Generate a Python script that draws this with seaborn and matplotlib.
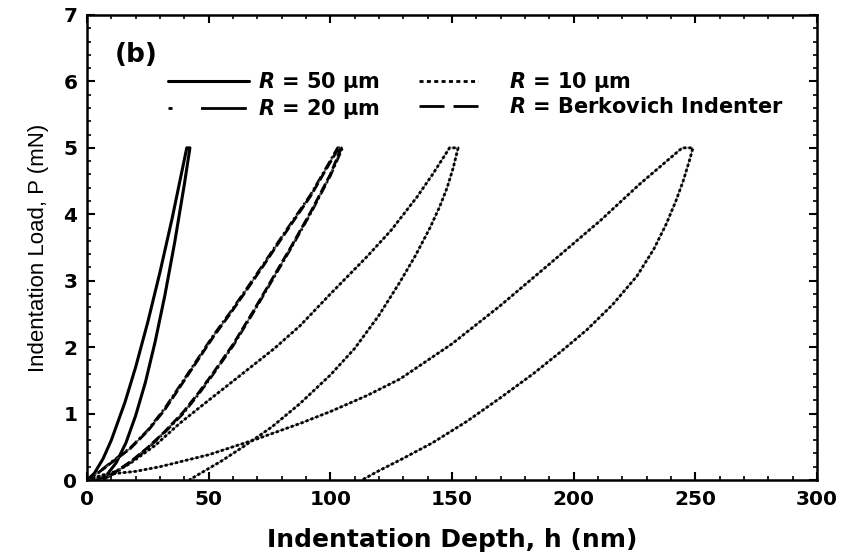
import numpy as np
import pandas as pd
import matplotlib
matplotlib.use("Agg")
import matplotlib.pyplot as plt
from matplotlib.lines import Line2D
import seaborn as sns

# ---- load-displacement cycles (depth in nm, load in mN), traced loading -> hold -> unloading
h_r50 = [0, 3, 6.6, 10, 15.6, 20, 25, 30, 35, 41, 42.3, 40, 36, 32, 28, 24, 20, 16, 12, 8, 4]
p_r50 = [0, 0.10, 0.32, 0.60, 1.17, 1.70, 2.38, 3.13, 3.94, 5.0, 5.0, 4.45, 3.57, 2.78, 2.08,
         1.47, 0.97, 0.56, 0.26, 0.07, 0]

h_r20 = [0, 5, 10, 17.7, 25, 32, 38.2, 46, 52, 58.8, 66, 72, 79.3, 86, 92, 98, 103,
         105, 100, 92, 84, 76, 68, 60, 52, 46, 39.5, 32, 25, 18, 12, 6.5]
p_r20 = [0, 0.12, 0.27, 0.48, 0.75, 1.08, 1.42, 1.85, 2.18, 2.52, 2.9, 3.22, 3.62, 3.98, 4.3, 4.68, 5.0,
         5.0, 4.58, 4.02, 3.5, 3.0, 2.5, 2.02, 1.6, 1.3, 1.0, 0.72, 0.48, 0.27, 0.12, 0]

h_berk = [0, 5, 10, 17.7, 25, 32, 38.2, 46, 52, 58.8, 66, 72, 79.3, 86, 92, 98, 103.5,
          104.5, 100, 92, 84, 76, 68, 60, 52, 46, 39.5, 32, 25, 18, 12, 6.5]
p_berk = [0, 0.12, 0.26, 0.47, 0.74, 1.06, 1.40, 1.83, 2.16, 2.50, 2.88, 3.2, 3.6, 3.96, 4.28, 4.66, 5.0,
          5.0, 4.6, 4.04, 3.52, 3.02, 2.52, 2.04, 1.62, 1.32, 1.02, 0.73, 0.49, 0.28, 0.13, 0]

h_r10 = [0, 6, 12, 17.7, 28, 38, 50, 65.6, 77, 87.5, 100, 115, 125, 135.6, 142, 149,
         152.5, 150.5, 148, 145, 141, 135, 128.6, 120, 110, 100, 87.5, 76, 65, 55, 48, 42]
p_r10 = [0, 0.07, 0.13, 0.25, 0.52, 0.85, 1.2, 1.65, 1.98, 2.32, 2.8, 3.36, 3.76, 4.26, 4.6, 5.0,
         5.0, 4.7, 4.4, 4.12, 3.8, 3.38, 2.98, 2.48, 1.98, 1.58, 1.15, 0.8, 0.52, 0.28, 0.13, 0]

h_deep = [0, 6, 12, 20, 30, 50, 70, 87.5, 100, 115, 128.6, 150, 169.7, 190, 210.8, 227, 244.6,
          249, 247.5, 245, 242, 238, 233, 226, 216, 205.4, 195, 183.4, 170, 156, 142, 128.6, 120, 113]
p_deep = [0, 0.05, 0.10, 0.13, 0.20, 0.38, 0.62, 0.85, 1.03, 1.27, 1.52, 2.05, 2.62, 3.25, 3.9, 4.45, 5.0,
          5.0, 4.8, 4.5, 4.2, 3.85, 3.48, 3.07, 2.64, 2.26, 1.94, 1.6, 1.24, 0.88, 0.56, 0.3, 0.14, 0]

legend_labels = ["$R$ = 50 μm", "$R$ = 20 μm", "$R$ = 10 μm", "$R$ = Berkovich Indenter"]
x_ticks = [0, 50, 100, 150, 200, 250, 300]
y_ticks = [0, 1, 2, 3, 4, 5, 6, 7]

sns.set_theme(style="ticks")
plt.rcParams.update({
    "font.family": ["DejaVu Sans"],
    "mathtext.fontset": "custom",
    "mathtext.it": "DejaVu Sans:italic:bold",
    "mathtext.rm": "DejaVu Sans:bold",
    "lines.scale_dashes": False,
    "axes.edgecolor": "black",
    "axes.labelcolor": "black",
    "text.color": "black",
    "xtick.color": "black",
    "ytick.color": "black",
    "axes.linewidth": 1.8,
})

fig = plt.figure(figsize=(8.44, 5.6), dpi=100)
ax = fig.add_axes([87 / 844, 80 / 560, 730 / 844, 465 / 560])

curves = [
    (h_r50, p_r50, "-", 2.2, False),
    (h_deep, p_deep, (0, (2.2, 1.6)), 2.0, True),
    (h_r10, p_r10, (0, (2.2, 1.6)), 2.0, True),
    (h_r20, p_r20, (0, (7, 2.2, 1.5, 2.2)), 2.0, True),
    (h_berk, p_berk, (0, (7, 2.5)), 2.0, True),
]
for hs, ps, ls, lw, guide in curves:
    df = pd.DataFrame({"h": hs, "P": ps})
    if guide:
        sns.lineplot(data=df, x="h", y="P", sort=False, estimator=None, ax=ax,
                     color="0.35", linewidth=0.7)
    sns.lineplot(data=df, x="h", y="P", sort=False, estimator=None, ax=ax,
                 color="black", linewidth=lw, linestyle=ls)

ax.set_xlim(0, 300)
ax.set_ylim(0, 7)
ax.set_xticks(x_ticks)
ax.set_yticks(y_ticks)
ax.set_xticks(np.arange(0, 301, 10), minor=True)
ax.set_yticks(np.arange(0, 7.01, 0.2), minor=True)
ax.tick_params(which="both", direction="in", top=True, right=True, colors="black")
ax.tick_params(which="major", length=6, width=1.5, labelsize=14.5, pad=7)
ax.tick_params(which="minor", length=3, width=1.2)
for lab in ax.get_xticklabels() + ax.get_yticklabels():
    lab.set_fontweight("bold")

ax.set_xlabel("Indentation Depth, h (nm)", fontsize=18, fontweight="bold", labelpad=14)
ax.set_ylabel("Indentation Load, P (mN)", fontsize=16, family=["Liberation Sans", "DejaVu Sans"],
              labelpad=10)

ax.text(0.038, 0.914, "(b)", transform=ax.transAxes, fontsize=19, fontweight="bold",
        ha="left", va="center")

# legend, two columns with their own handle styles
h1 = [Line2D([], [], color="black", lw=2.2, ls="-"),
      Line2D([], [], color="black", lw=2.0, ls=(0, (2.9, 20.5, 33, 20)))]
h2 = [Line2D([], [], color="black", lw=2.0, ls=(0, (2.9, 2.4))),
      Line2D([], [], color="black", lw=2.0, ls=(0, (18, 6.5)))]
leg_kw = dict(frameon=False, prop={"weight": "bold", "size": 15},
              borderpad=0, borderaxespad=0, labelspacing=0.15, loc="upper left")
leg1 = ax.legend(h1, [legend_labels[0], legend_labels[1]], handlelength=3.9,
                 handletextpad=0.43, bbox_to_anchor=((168 - 87) / 730, 0.882), **leg_kw)
ax.add_artist(leg1)
ax.legend(h2, [legend_labels[2], legend_labels[3]], handlelength=2.84,
          handletextpad=1.5, bbox_to_anchor=((419 - 87) / 730, 0.882), **leg_kw)

fig.savefig("out.png", dpi=100)
